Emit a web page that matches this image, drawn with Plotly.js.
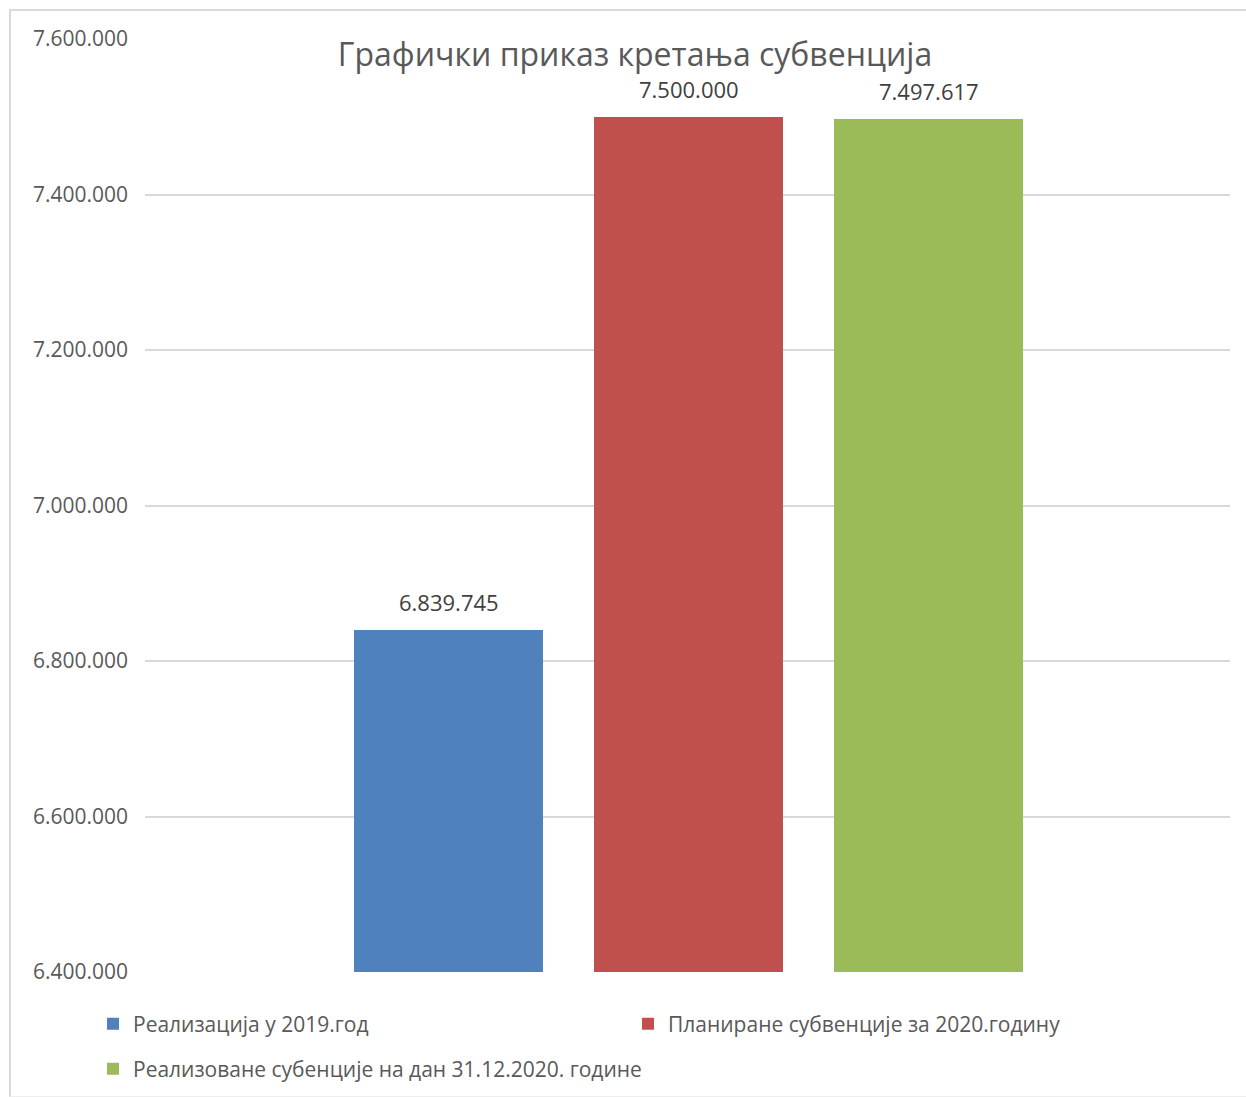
<!DOCTYPE html>
<html>
<head>
<meta charset="utf-8">
<script src="https://cdn.plot.ly/plotly-3.0.1.min.js"></script>
<style>
  html, body { margin: 0; padding: 0; background: #ffffff; }
  #wrap { position: relative; width: 1246px; height: 1097px; }
  #chart { position: absolute; left: 0; top: 0; width: 1246px; height: 1097px; }
  #frame { position: absolute; left: 9px; top: 9px; width: 1250px; height: 1085px;
           border-left: 2px solid #d9d9d9; border-top: 2px solid #d9d9d9; border-bottom: 1px solid #eeeeee;
           pointer-events: none; }
</style>
</head>
<body>
<div id="wrap">
  <div id="chart"></div>
  <div id="frame"></div>
</div>
<script>
const chartTitle = "Графички приказ кретања субвенција";
const seriesNames = [
  "Реализација у 2019.год",
  "Планиране субвенције за 2020.годину",
  "Реализоване субенције на дан 31.12.2020. године"
];
const seriesValues = [6839745, 7500000, 7497617];
const seriesColors = ["#4F81BD", "#C0504D", "#9BBB59"];
const yTickValues = [6400000, 6600000, 6800000, 7000000, 7200000, 7400000, 7600000];

const fontFam = "'Open Sans', 'Noto Sans', sans-serif";
const legendIds = ["legend", "legend", "legend2"];

const traces = seriesNames.map((name, i) => ({
  type: "bar",
  name: name,
  x: [i],
  y: [seriesValues[i]],
  width: 0.7875,
  marker: { color: seriesColors[i] },
  legend: legendIds[i],
  hoverinfo: "name+y"
}));

function thousands(v) {
  return String(v).replace(/\B(?=(\d{3})+(?!\d))/g, ".");
}

const annotations = seriesNames.map((name, i) => ({
  xref: "x", yref: "y",
  x: i, y: seriesValues[i],
  text: thousands(seriesValues[i]),
  showarrow: false,
  yanchor: "bottom",
  yshift: 11,
  font: { family: fontFam, size: 22, color: "#404040" }
}));

const layout = {
  width: 1246,
  height: 1097,
  margin: { l: 145, r: 16, t: 39, b: 125 },
  paper_bgcolor: "#ffffff",
  plot_bgcolor: "#ffffff",
  separators: ",.",
  showlegend: true,
  title: {
    text: chartTitle,
    font: { family: fontFam, size: 32, color: "#595959" },
    xref: "container", yref: "container",
    x: 635 / 1246, xanchor: "center",
    y: 1 - 55 / 1097, yanchor: "middle"
  },
  xaxis: {
    range: [-1.265, 3.256],
    showticklabels: false,
    showgrid: false,
    zeroline: false,
    ticks: "",
    fixedrange: true
  },
  yaxis: {
    range: [6400000, 7600000],
    tickvals: yTickValues,
    tickformat: ",d",
    showgrid: true,
    gridcolor: "#d9d9d9",
    gridwidth: 2,
    zeroline: false,
    ticks: "",
    ticklabelstandoff: 16,
    tickfont: { family: fontFam, size: 21, color: "#595959" },
    fixedrange: true
  },
  legend: {
    orientation: "h",
    xref: "container", yref: "container",
    x: 93 / 1246, xanchor: "left",
    y: 1 - 1024 / 1097, yanchor: "middle",
    entrywidth: 490,
    entrywidthmode: "pixels",
    font: { family: fontFam, size: 21, color: "#595959" },
    bgcolor: "rgba(0,0,0,0)"
  },
  legend2: {
    orientation: "h",
    xref: "container", yref: "container",
    x: 93 / 1246, xanchor: "left",
    y: 1 - 1069 / 1097, yanchor: "middle",
    font: { family: fontFam, size: 21, color: "#595959" },
    bgcolor: "rgba(0,0,0,0)"
  },
  annotations: annotations,
  bargap: 0
};

Plotly.newPlot("chart", traces, layout, { displayModeBar: false, staticPlot: true });
</script>
</body>
</html>
